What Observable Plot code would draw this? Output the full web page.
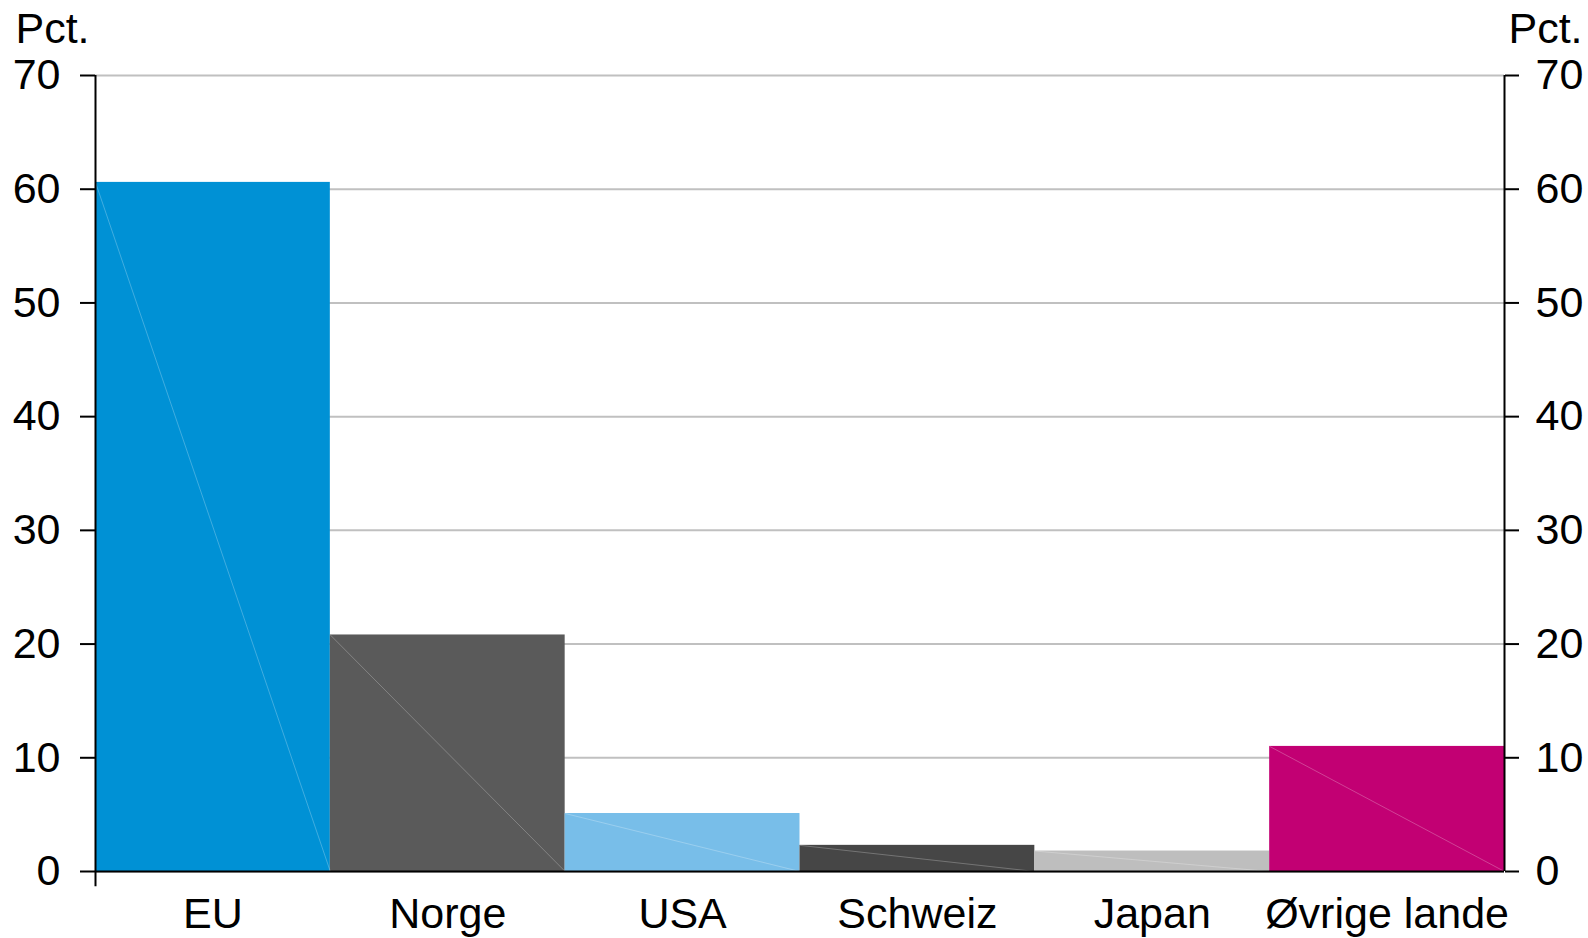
<!DOCTYPE html>
<html>
<head>
<meta charset="utf-8">
<script src="https://cdn.jsdelivr.net/npm/d3@7"></script>
<script src="https://cdn.jsdelivr.net/npm/@observablehq/plot@0.6"></script>
<style>
  html, body { margin: 0; padding: 0; background: #fff; overflow: hidden; }
  svg { display: block; }
</style>
</head>
<body>
<div id="chart"></div>
<script>
const categories = ["EU", "Norge", "USA", "Schweiz", "Japan", "Øvrige lande"];
const values = [60.6, 20.8, 5.1, 2.3, 1.8, 11.0];
const barColors = ["#0091d5", "#5a5a5a", "#78bee9", "#464646", "#bebebe", "#c20073"];
const yTicks = [0, 10, 20, 30, 40, 50, 60, 70];
const unitLabel = "Pct.";

const data = categories.map((c, i) => ({c, i, v: values[i], color: barColors[i]}));
const font = "'Liberation Sans', Arial, sans-serif";
const fs = 43;

const chart = Plot.plot({
  width: 1588,
  height: 938,
  marginLeft: 95,
  marginRight: 84,
  marginTop: 75,
  marginBottom: 67,
  style: {fontFamily: font, fontSize: fs + "px", color: "#000", background: "#fff"},
  x: {domain: [0, categories.length], axis: null},
  y: {domain: [0, 70], axis: null},
  color: {type: "identity"},
  marks: [
    Plot.ruleY(yTicks, {stroke: "#c0c0c0", strokeWidth: 2}),
    Plot.rect(data, {x1: d => d.i, x2: d => d.i + 1, y1: 0, y2: "v", fill: d => d.color}),
    Plot.link(data, {x1: d => d.i, y1: "v", x2: d => d.i + 1, y2: 0, stroke: "#fff", strokeOpacity: 0.25, strokeWidth: 1}),
    Plot.ruleY([0], {stroke: "#000", strokeWidth: 2}),
    Plot.ruleX([0], {y1: -1.35, y2: 70, stroke: "#000", strokeWidth: 2}),
    Plot.ruleX([categories.length], {y1: 0, y2: 70, stroke: "#000", strokeWidth: 2}),
    Plot.axisY(yTicks, {anchor: "left", label: null, tickSize: 15, tickPadding: 20, fontSize: fs, stroke: "#000", strokeWidth: 2, fill: "#000"}),
    Plot.axisY(yTicks, {anchor: "right", label: null, tickSize: 14, tickPadding: 17, fontSize: fs, stroke: "#000", strokeWidth: 2, fill: "#000"}),
    Plot.text(data, {x: d => d.i + 0.5, y: 0, text: "c", dy: 42.5, fontSize: fs, fill: "#000", lineAnchor: "middle"}),
    Plot.text([unitLabel], {x: 0, y: 70, text: d => d, dx: -43, dy: -46, fontSize: fs, fill: "#000", lineAnchor: "middle"}),
    Plot.text([unitLabel], {x: categories.length, y: 70, text: d => d, dx: 41, dy: -46, fontSize: fs, fill: "#000", lineAnchor: "middle"})
  ]
});

document.getElementById("chart").appendChild(chart);
</script>
</body>
</html>
